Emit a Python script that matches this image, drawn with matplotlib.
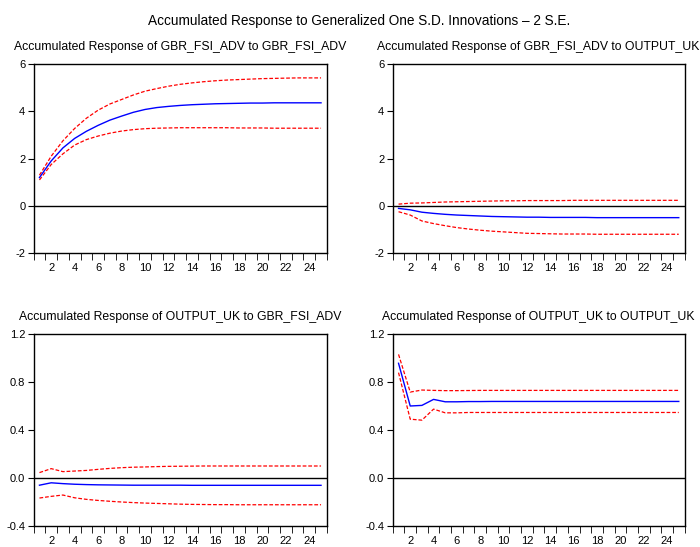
import matplotlib
matplotlib.use("Agg")
import matplotlib.pyplot as plt
import numpy as np

plt.rcParams["font.family"] = ["Liberation Sans", "DejaVu Sans"]

periods = np.arange(1, 26)

# GBR_FSI_ADV -> GBR_FSI_ADV
fsi_fsi = [1.2, 1.9, 2.45, 2.85, 3.15, 3.4, 3.62, 3.79, 3.95, 4.07, 4.15, 4.2, 4.24,
           4.27, 4.29, 4.31, 4.32, 4.33, 4.34, 4.34, 4.35, 4.35, 4.35, 4.35, 4.35]
fsi_fsi_hi = [1.3, 2.1, 2.75, 3.27, 3.7, 4.04, 4.3, 4.49, 4.68, 4.84, 4.95, 5.05, 5.13,
              5.19, 5.24, 5.28, 5.31, 5.33, 5.35, 5.37, 5.38, 5.39, 5.4, 5.4, 5.4]
fsi_fsi_lo = [1.1, 1.75, 2.2, 2.57, 2.8, 2.95, 3.07, 3.16, 3.22, 3.26, 3.28, 3.29, 3.3,
              3.3, 3.3, 3.3, 3.3, 3.29, 3.29, 3.29, 3.28, 3.28, 3.28, 3.28, 3.28]

# GBR_FSI_ADV -> OUTPUT_UK
fsi_out = [-0.1, -0.16, -0.26, -0.31, -0.35, -0.38, -0.4, -0.42, -0.44, -0.45, -0.46, -0.47, -0.47,
           -0.48, -0.48, -0.48, -0.48, -0.49, -0.49, -0.49, -0.49, -0.49, -0.49, -0.49, -0.49]
fsi_out_hi = [0.08, 0.12, 0.13, 0.15, 0.17, 0.18, 0.19, 0.2, 0.21, 0.22, 0.22, 0.23, 0.23,
              0.23, 0.23, 0.24, 0.24, 0.24, 0.24, 0.24, 0.24, 0.24, 0.24, 0.24, 0.24]
fsi_out_lo = [-0.24, -0.38, -0.63, -0.74, -0.83, -0.91, -0.97, -1.02, -1.06, -1.09, -1.12, -1.15, -1.16,
              -1.17, -1.18, -1.18, -1.18, -1.19, -1.19, -1.19, -1.19, -1.19, -1.19, -1.19, -1.19]

# OUTPUT_UK -> GBR_FSI_ADV
out_fsi = [-0.06, -0.04, -0.047, -0.052, -0.055, -0.057, -0.058, -0.059, -0.06, -0.06, -0.06, -0.06, -0.06,
           -0.061, -0.061, -0.061, -0.061, -0.061, -0.061, -0.061, -0.061, -0.061, -0.061, -0.061, -0.061]
out_fsi_hi = [0.045, 0.078, 0.053, 0.058, 0.063, 0.072, 0.08, 0.086, 0.09, 0.092, 0.095, 0.097, 0.098,
              0.099, 0.1, 0.1, 0.1, 0.1, 0.1, 0.1, 0.1, 0.1, 0.1, 0.1, 0.1]
out_fsi_lo = [-0.167, -0.153, -0.142, -0.165, -0.178, -0.187, -0.194, -0.2, -0.205, -0.209, -0.212, -0.215, -0.218,
              -0.22, -0.221, -0.222, -0.222, -0.223, -0.223, -0.223, -0.223, -0.223, -0.223, -0.223, -0.223]

# OUTPUT_UK -> OUTPUT_UK
out_out = [0.956, 0.6, 0.605, 0.655, 0.635, 0.635, 0.637, 0.637, 0.638, 0.638, 0.638, 0.638, 0.638,
           0.638, 0.638, 0.638, 0.638, 0.638, 0.638, 0.638, 0.638, 0.638, 0.638, 0.638, 0.638]
out_out_hi = [1.03, 0.716, 0.733, 0.73, 0.728, 0.728, 0.729, 0.73, 0.73, 0.73, 0.73, 0.73, 0.73,
              0.73, 0.73, 0.73, 0.73, 0.73, 0.73, 0.73, 0.73, 0.73, 0.73, 0.73, 0.73]
out_out_lo = [0.878, 0.49, 0.482, 0.574, 0.543, 0.543, 0.546, 0.546, 0.546, 0.546, 0.546, 0.546, 0.546,
              0.546, 0.546, 0.546, 0.546, 0.546, 0.546, 0.546, 0.546, 0.546, 0.546, 0.546, 0.546]

panels = [
    ("Accumulated Response of GBR_FSI_ADV to GBR_FSI_ADV", fsi_fsi, fsi_fsi_hi, fsi_fsi_lo,
     (-2, 6), [-2, 0, 2, 4, 6], ["-2", "0", "2", "4", "6"]),
    ("Accumulated Response of GBR_FSI_ADV to OUTPUT_UK", fsi_out, fsi_out_hi, fsi_out_lo,
     (-2, 6), [-2, 0, 2, 4, 6], ["-2", "0", "2", "4", "6"]),
    ("Accumulated Response of OUTPUT_UK to GBR_FSI_ADV", out_fsi, out_fsi_hi, out_fsi_lo,
     (-0.4, 1.2), [-0.4, 0.0, 0.4, 0.8, 1.2], ["-0.4", "0.0", "0.4", "0.8", "1.2"]),
    ("Accumulated Response of OUTPUT_UK to OUTPUT_UK", out_out, out_out_hi, out_out_lo,
     (-0.4, 1.2), [-0.4, 0.0, 0.4, 0.8, 1.2], ["-0.4", "0.0", "0.4", "0.8", "1.2"]),
]

# axes rectangles in figure fractions
rects = [
    (0.048, 0.5366, 0.419, 0.347),
    (0.561, 0.5366, 0.417, 0.347),
    (0.048, 0.0384, 0.419, 0.351),
    (0.561, 0.0384, 0.417, 0.351),
]

fig = plt.figure(figsize=(7, 5.47), dpi=100)
fig.suptitle("Accumulated Response to Generalized One S.D. Innovations \u2013 2 S.E.",
             x=0.513, y=0.975, fontsize=9.8)

for rect, (title, mid, hi, lo, ylim, yticks, ylabels) in zip(rects, panels):
    ax = fig.add_axes(rect)
    ax.axhline(0, color="black", linewidth=1.0)
    ax.plot(periods, hi, color="red", linestyle=(0, (3, 1.5)), linewidth=0.9)
    ax.plot(periods, lo, color="red", linestyle=(0, (3, 1.5)), linewidth=0.9)
    ax.plot(periods, mid, color="blue", linewidth=1.0)
    ax.set_xlim(0.5, 25.5)
    ax.set_ylim(*ylim)
    ax.set_yticks(yticks)
    ax.set_yticklabels(ylabels)
    ax.set_xticks(np.arange(2, 26, 2))
    ax.set_xticks(np.arange(0.5, 25.6, 1), minor=True)
    ax.tick_params(axis="x", which="major", length=0, labelsize=8, pad=7)
    ax.tick_params(axis="x", which="minor", length=5, direction="out")
    ax.tick_params(axis="y", length=4, direction="out", labelsize=8, pad=2)
    for s in ax.spines.values():
        s.set_linewidth(1.0)
    ax.set_title(title, fontsize=8.8, pad=10)

fig.savefig("out.png", dpi=100)
